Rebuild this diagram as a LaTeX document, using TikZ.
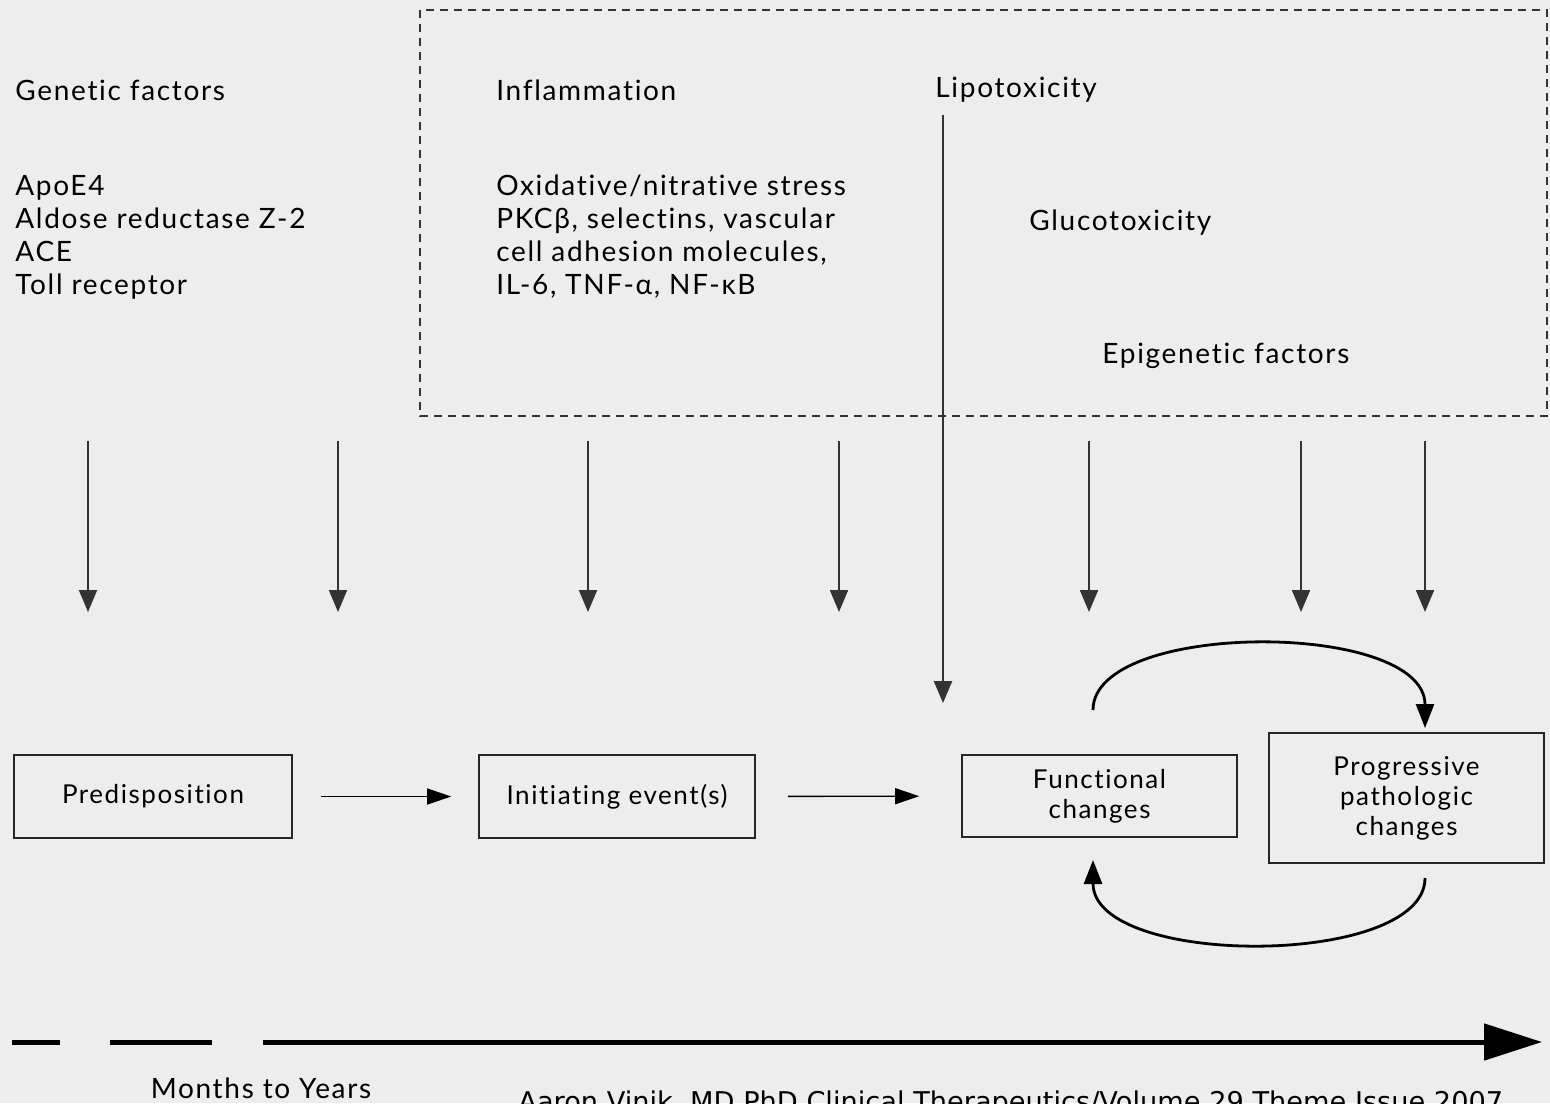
\documentclass[tikz,border=0pt]{standalone}
\usepackage{fontspec}
\setmainfont{Lato}[LetterSpace=6, Ligatures=NoCommon]
\newfontfamily\footfont{DejaVu Sans}
\usetikzlibrary{arrows.meta}
\definecolor{bgcol}{RGB}{237,237,237}

\tikzset{%
  factor text/.style={
    font=\fontsize{14}{16.5}\selectfont,
    align=left,
    inner sep=0pt
  },
  stage box/.style={
    draw=black!85,
    line width=0.8pt,
    align=center,
    font=\fontsize{13}{15}\selectfont
  },
  down arrow/.style={
    draw=black!80,
    line width=1pt,
    -{Triangle[length=11pt,width=9pt]}
  },
  flow arrow/.style={
    line width=0.7pt,
    -{Triangle[length=12pt,width=8pt]}
  },
  loop arrow/.style={
    line width=1.4pt,
    -{Triangle[length=12pt,width=9pt]}
  },
  time line/.style={
    line width=2.5pt
  },
  dashed frame/.style={
    draw=black!80,
    line width=0.6pt,
    dash pattern=on 4pt off 3pt
  },
}

\begin{document}
\begin{tikzpicture}[x=0.5pt, y=-0.5pt]

            \fill [bgcol] (0,0) rectangle (1550,1103);
            \useasboundingbox (0,0) rectangle (1550,1103);

            % frame round the metabolic factors
            \draw [dashed frame] (420,10) rectangle (1547,416);

            % factor labels
            \node [factor text, anchor=west] (genetic) at (15,90) {Genetic factors};
            \node [factor text, anchor=west] (inflam) at (496,90) {Inflammation};
            \node [factor text, anchor=west] (lipo) at (935,90) {Lipotoxicity};
            \node [factor text, anchor=west] (genes) at (15,237)
              {ApoE4\\Aldose reductase Z-2\\ACE\\Toll receptor};
            \node [factor text, anchor=west] (stress) at (496,237)
              {Oxidative/nitrative stress\\PKCβ, selectins, vascular\\cell adhesion molecules,\\IL-6, TNF-α, NF-κB};
            \node [factor text, anchor=west] (gluco) at (1029,223) {Glucotoxicity};
            \node [factor text, anchor=west] (epi) at (1102,356) {Epigenetic factors};

            % stages
            \node [stage box, minimum width=139pt, minimum height=41.5pt] (predis) at (153,796.5) {Predisposition};
            \node [stage box, minimum width=138pt, minimum height=41.5pt] (init) at (617,796.5) {Initiating event(s)};
            \node [stage box, minimum width=137.5pt, minimum height=41pt] (func) at (1099.5,796) {Functional\\changes};
            \node [stage box, minimum width=137.5pt, minimum height=65pt] (prog) at (1406.5,798) {Progressive\\pathologic\\changes};

            % arrows from the factors
            \foreach \x [count=\i] in {88,338,588,839,1089,1301,1425} {
              \coordinate (top-\i) at (\x,441);
              \coordinate (tip-\i) at (\x,612);
              \draw [down arrow] (top-\i) -- (tip-\i);
            }

            \coordinate (lipo-start) at (943,115);
            \coordinate (lipo-end) at (943,703);
            \draw [down arrow, line width=1.3pt] (lipo-start) -- (lipo-end);

            \draw [flow arrow, shorten <=14pt, shorten >=13.5pt] (predis) -- (init);
            \draw [flow arrow, shorten <=16pt, shorten >=21pt] (init) -- (func);

            % feedback loop
            \coordinate (loop-a) at (1093,710);
            \coordinate (loop-b) at (1425,728);
            \coordinate (loop-c) at (1425,878);
            \coordinate (loop-d) at (1093,860);
            \draw [loop arrow] (loop-a) .. controls (1093,620) and (1425,620) .. (loop-b);
            \draw [loop arrow] (loop-c) .. controls (1425,968) and (1093,968) .. (loop-d);

            % time axis
            \coordinate (t-0) at (12,1042);
            \coordinate (t-1) at (60,1042);
            \coordinate (t-2) at (110,1042);
            \coordinate (t-3) at (212,1042);
            \coordinate (t-4) at (263,1042);
            \coordinate (t-5) at (1542,1042);
            \draw [time line] (t-0) -- (t-1);
            \draw [time line] (t-2) -- (t-3);
            \draw [time line, -{Triangle[length=29pt,width=18pt]}] (t-4) -- (t-5);

            \node [factor text, anchor=center] (months) at (261,1088) {Months to Years};
            \node [anchor=base west, inner sep=0pt, font=\footfont\fontsize{13.6}{15}\selectfont] (source) at (518,1111)
              {Aaron Vinik, MD PhD Clinical Therapeutics/Volume 29 Theme Issue 2007};

\end{tikzpicture}
\end{document}
